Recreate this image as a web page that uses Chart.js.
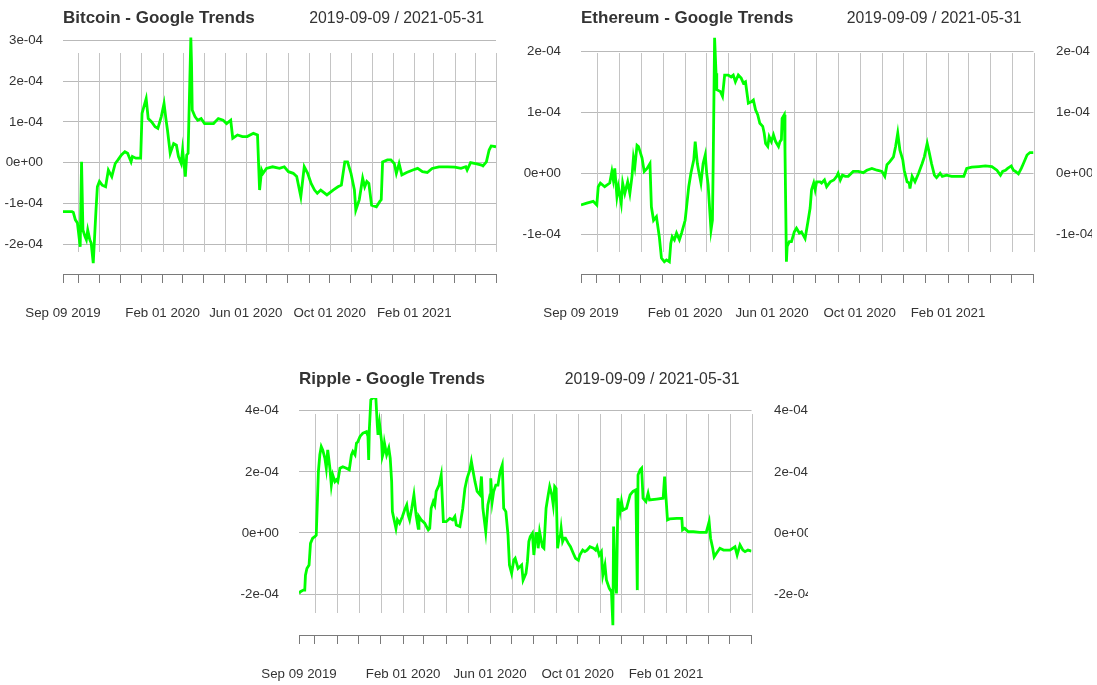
<!DOCTYPE html>
<html><head><meta charset="utf-8">
<script src="https://cdn.jsdelivr.net/npm/chart.js@4.4.1/dist/chart.umd.min.js"></script>
<style>
html,body{margin:0;padding:0;background:#ffffff;width:1097px;height:685px;overflow:hidden}
body{position:relative}
canvas{position:absolute}
</style></head><body>
<canvas id="c1" width="518" height="324" style="left:0px;top:0px"></canvas>
<canvas id="c2" width="574" height="324" style="left:518px;top:0px"></canvas>
<canvas id="c3" width="572" height="324" style="left:236px;top:361px"></canvas>
<script>
// ---------- data ----------
const startDate = '2019-09-09';
const endDate = '2021-05-31';
const rangeText = '2019-09-09 / 2021-05-31';

const xTickDates = ['2019-09-09','2019-10-01','2019-11-01','2019-12-01','2020-01-01','2020-02-01','2020-03-01','2020-04-01','2020-05-01','2020-06-01','2020-07-01','2020-08-01','2020-09-01','2020-10-01','2020-11-01','2020-12-01','2021-01-01','2021-02-01','2021-03-01','2021-04-01','2021-05-01','2021-05-31'];
const xLabelDates = ['2019-09-09','2020-02-01','2020-06-01','2020-10-01','2021-02-01'];
const xLabelTexts = ['Sep 09 2019','Feb 01 2020','Jun 01 2020','Oct 01 2020','Feb 01 2021'];

// days since 2019-09-09
const btcDays = [0,13,15,18,21,23,25,27,29,32,34,36,39,41,44,46,48,50,53,57,62,66,71,76,80,85,90,94,99,101,106,113,115,121,124,129,134,138,143,147,150,152,156,161,165,168,172,174,178,180,182,186,187,188,192,196,201,206,213,219,226,233,238,244,247,254,261,268,277,283,286,289,291,296,305,315,322,328,335,340,346,351,356,361,366,370,375,384,393,400,405,410,414,419,424,426,431,436,439,442,445,449,456,461,463,465,472,477,482,485,489,493,500,509,516,523,530,537,547,560,570,579,586,588,593,602,609,611,616,620,623,630];
const btcValues = [-1.20e-4,-1.20e-4,-1.22e-4,-1.40e-4,-1.48e-4,-1.77e-4,-2.06e-4,0.02e-4,-1.65e-4,-1.81e-4,-1.89e-4,-1.65e-4,-1.89e-4,-1.97e-4,-2.46e-4,-1.81e-4,-1.16e-4,-0.59e-4,-0.46e-4,-0.55e-4,-0.59e-4,-0.18e-4,-0.34e-4,-0.02e-4,0.07e-4,0.19e-4,0.27e-4,0.23e-4,0.02e-4,0.15e-4,0.11e-4,0.11e-4,1.21e-4,1.57e-4,1.08e-4,1.00e-4,0.88e-4,0.84e-4,1.13e-4,1.45e-4,1.04e-4,0.80e-4,0.23e-4,0.47e-4,0.43e-4,0.15e-4,-0.02e-4,0.31e-4,-0.34e-4,0.19e-4,0.23e-4,3.07e-4,2.43e-4,1.29e-4,1.13e-4,1.04e-4,1.08e-4,0.96e-4,0.96e-4,0.96e-4,1.08e-4,1.04e-4,0.96e-4,1.04e-4,0.60e-4,0.68e-4,0.64e-4,0.64e-4,0.72e-4,0.68e-4,-0.67e-4,-0.18e-4,-0.26e-4,-0.14e-4,-0.10e-4,-0.14e-4,-0.10e-4,-0.22e-4,-0.26e-4,-0.34e-4,-0.83e-4,-0.10e-4,-0.26e-4,-0.51e-4,-0.67e-4,-0.75e-4,-0.67e-4,-0.79e-4,-0.67e-4,-0.59e-4,-0.55e-4,0.02e-4,0.02e-4,-0.26e-4,-0.67e-4,-1.16e-4,-0.91e-4,-0.38e-4,-0.59e-4,-0.46e-4,-0.51e-4,-1.04e-4,-1.08e-4,-0.95e-4,-0.91e-4,0.02e-4,0.07e-4,0.07e-4,-0.02e-4,-0.26e-4,-0.02e-4,-0.30e-4,-0.24e-4,-0.18e-4,-0.14e-4,-0.22e-4,-0.24e-4,-0.14e-4,-0.10e-4,-0.10e-4,-0.11e-4,-0.14e-4,-0.10e-4,-0.18e-4,0.00e-4,-0.03e-4,-0.06e-4,-0.08e-4,0.02e-4,0.31e-4,0.41e-4,0.39e-4];

const ethDays = [0,8,17,22,24,27,33,40,43,45,47,50,52,56,58,61,65,68,71,73,75,78,80,85,88,92,96,98,101,105,109,112,116,119,123,125,127,130,133,137,140,145,147,150,153,157,159,162,164,167,170,173,175,177,181,183,184,186,188,189,194,197,200,205,209,212,215,219,223,226,229,233,237,240,243,246,249,253,255,257,260,262,265,268,271,275,277,279,280,283,284,286,287,290,293,297,300,304,307,312,316,319,321,324,326,328,333,335,339,342,347,352,356,358,361,364,368,372,379,386,393,398,405,412,419,423,426,430,435,438,441,444,448,450,454,457,458,461,465,470,475,478,482,485,488,492,495,500,503,509,516,526,533,537,544,554,563,572,579,584,587,591,594,599,602,605,609,613,616,621,625,630];
const ethValues = [-0.52e-4,-0.49e-4,-0.46e-4,-0.52e-4,-0.22e-4,-0.16e-4,-0.22e-4,-0.16e-4,0.03e-4,-0.11e-4,0.08e-4,-0.38e-4,-0.22e-4,-0.49e-4,-0.16e-4,-0.33e-4,-0.14e-4,-0.33e-4,-0.05e-4,0.25e-4,0.11e-4,0.46e-4,0.44e-4,0.25e-4,0.03e-4,0.08e-4,0.16e-4,-0.55e-4,-0.77e-4,-0.71e-4,-1.04e-4,-1.39e-4,-1.45e-4,-1.42e-4,-1.45e-4,-1.15e-4,-1.04e-4,-1.09e-4,-0.98e-4,-1.09e-4,-0.98e-4,-0.77e-4,-0.55e-4,-0.22e-4,0.00e-4,0.22e-4,0.52e-4,0.16e-4,0.03e-4,-0.16e-4,0.16e-4,0.30e-4,0.00e-4,-0.19e-4,-0.93e-4,-0.77e-4,0.11e-4,2.22e-4,1.64e-4,1.37e-4,1.34e-4,1.26e-4,1.61e-4,1.61e-4,1.58e-4,1.61e-4,1.50e-4,1.61e-4,1.56e-4,1.48e-4,1.50e-4,1.15e-4,1.17e-4,1.20e-4,1.04e-4,0.96e-4,0.82e-4,0.77e-4,0.66e-4,0.49e-4,0.44e-4,0.60e-4,0.52e-4,0.63e-4,0.52e-4,0.44e-4,0.52e-4,0.55e-4,0.90e-4,0.96e-4,0.38e-4,-1.45e-4,-1.20e-4,-1.12e-4,-1.12e-4,-0.96e-4,-0.90e-4,-0.98e-4,-0.96e-4,-1.07e-4,-0.79e-4,-0.57e-4,-0.27e-4,-0.16e-4,-0.27e-4,-0.14e-4,-0.14e-4,-0.16e-4,-0.11e-4,-0.22e-4,-0.14e-4,-0.11e-4,-0.05e-4,0.00e-4,-0.11e-4,-0.03e-4,-0.05e-4,-0.05e-4,0.03e-4,0.03e-4,0.01e-4,0.05e-4,0.08e-4,0.05e-4,0.03e-4,-0.05e-4,0.14e-4,0.19e-4,0.27e-4,0.44e-4,0.66e-4,0.38e-4,0.22e-4,0.05e-4,-0.14e-4,-0.16e-4,-0.25e-4,-0.05e-4,-0.14e-4,0.00e-4,0.16e-4,0.27e-4,0.49e-4,0.33e-4,0.16e-4,-0.03e-4,-0.07e-4,0.00e-4,-0.05e-4,-0.03e-4,-0.05e-4,-0.05e-4,-0.05e-4,0.08e-4,0.10e-4,0.11e-4,0.12e-4,0.11e-4,0.05e-4,-0.03e-4,0.03e-4,0.05e-4,0.08e-4,0.12e-4,0.05e-4,0.03e-4,-0.01e-4,0.08e-4,0.16e-4,0.30e-4,0.34e-4,0.34e-4];

const xrpDays = [0,2,6,8,9,11,14,16,19,22,24,27,29,31,33,36,38,40,43,45,47,50,52,54,57,61,66,70,73,75,78,80,82,85,89,94,96,97,98,100,103,107,109,110,112,115,116,118,119,122,125,127,129,130,133,135,137,140,144,147,150,152,154,157,160,163,166,167,170,175,180,182,184,187,189,191,195,198,201,205,210,214,217,219,224,228,231,234,238,240,242,245,248,252,254,256,260,263,266,267,269,271,274,277,280,283,285,288,291,293,296,299,301,305,310,312,316,318,320,322,325,327,330,332,333,335,339,341,344,347,349,352,354,356,358,360,362,364,365,367,369,371,375,378,382,385,389,391,395,398,401,405,410,413,415,418,421,423,426,428,432,435,437,438,440,442,444,447,449,451,456,461,465,469,471,472,475,477,479,483,486,488,498,507,509,511,513,516,526,533,534,537,542,549,558,567,571,573,576,578,581,586,591,600,607,610,614,618,621,625,630];
const xrpValues = [-1.98e-4,-1.92e-4,-1.87e-4,-1.87e-4,-1.38e-4,-1.16e-4,-1.05e-4,-0.34e-4,-0.17e-4,-0.12e-4,-0.07e-4,2.01e-4,2.56e-4,2.83e-4,2.72e-4,2.45e-4,2.12e-4,2.72e-4,2.12e-4,1.57e-4,1.90e-4,1.68e-4,1.74e-4,1.68e-4,2.12e-4,2.17e-4,2.12e-4,2.07e-4,2.56e-4,2.67e-4,2.56e-4,2.94e-4,2.99e-4,3.16e-4,3.27e-4,3.32e-4,3.16e-4,2.39e-4,3.43e-4,4.36e-4,4.42e-4,4.42e-4,3.54e-4,3.21e-4,3.60e-4,2.99e-4,2.50e-4,2.67e-4,2.94e-4,2.56e-4,2.78e-4,2.45e-4,1.68e-4,0.70e-4,0.37e-4,0.15e-4,0.43e-4,0.32e-4,0.54e-4,0.75e-4,0.92e-4,0.59e-4,0.43e-4,0.81e-4,1.25e-4,0.59e-4,0.15e-4,0.54e-4,0.43e-4,0.32e-4,0.10e-4,0.15e-4,0.81e-4,1.03e-4,0.92e-4,1.36e-4,1.57e-4,1.90e-4,0.37e-4,0.37e-4,0.48e-4,0.43e-4,0.54e-4,0.26e-4,0.21e-4,0.81e-4,1.46e-4,1.79e-4,2.07e-4,2.34e-4,2.07e-4,1.68e-4,1.36e-4,1.25e-4,1.85e-4,0.81e-4,0.04e-4,0.92e-4,1.25e-4,1.79e-4,1.03e-4,1.36e-4,1.57e-4,1.57e-4,2.01e-4,2.23e-4,0.81e-4,0.70e-4,-0.07e-4,-1.05e-4,-1.32e-4,-0.89e-4,-0.83e-4,-1.16e-4,-1.05e-4,-1.54e-4,-1.32e-4,-0.94e-4,-0.28e-4,-0.12e-4,-0.01e-4,-0.72e-4,-0.01e-4,-0.01e-4,-0.50e-4,0.04e-4,-0.45e-4,-0.50e-4,0.81e-4,1.25e-4,1.52e-4,1.25e-4,0.92e-4,1.52e-4,1.46e-4,-0.50e-4,-0.17e-4,-0.07e-4,0.15e-4,-0.28e-4,-0.17e-4,-0.17e-4,-0.34e-4,-0.45e-4,-0.67e-4,-0.83e-4,-0.89e-4,-0.72e-4,-0.56e-4,-0.61e-4,-0.56e-4,-0.45e-4,-0.50e-4,-0.56e-4,-0.45e-4,-0.72e-4,-0.61e-4,-1.38e-4,-1.05e-4,-1.54e-4,-1.81e-4,-1.92e-4,-3.02e-4,0.21e-4,-1.49e-4,-1.98e-4,1.14e-4,0.70e-4,1.03e-4,0.75e-4,0.81e-4,1.25e-4,1.36e-4,1.41e-4,-1.87e-4,1.90e-4,2.07e-4,2.12e-4,1.14e-4,1.03e-4,1.30e-4,1.08e-4,1.11e-4,1.14e-4,1.85e-4,1.14e-4,0.43e-4,0.46e-4,0.48e-4,0.48e-4,0.10e-4,0.15e-4,0.04e-4,0.04e-4,0.02e-4,0.02e-4,0.37e-4,-0.17e-4,-0.50e-4,-0.78e-4,-0.67e-4,-0.50e-4,-0.56e-4,-0.56e-4,-0.45e-4,-0.72e-4,-0.39e-4,-0.56e-4,-0.61e-4,-0.56e-4,-0.59e-4];

const btcYTicks = [-2e-4,-1e-4,0,1e-4,2e-4,3e-4];
const btcYLabels = ['-2e-04','-1e-04','0e+00','1e-04','2e-04','3e-04'];
const ethYTicks = [-1e-4,0,1e-4,2e-4];
const ethYLabels = ['-1e-04','0e+00','1e-04','2e-04'];
const xrpYTicks = [-2e-4,0,2e-4,4e-4];
const xrpYLabels = ['-2e-04','0e+00','2e-04','4e-04'];

// ---------- rendering ----------
const FONT = '"Liberation Sans", Arial, Helvetica, sans-serif';
const TXT = '#333333';
Chart.defaults.font.family = FONT;
const dayOf = s => Math.round((Date.parse(s) - Date.parse(startDate)) / 86400000);
const totalDays = dayOf(endDate);
const xTickDays = xTickDates.map(dayOf);
const xLabelDays = xLabelDates.map(dayOf);

const panelDeco = {
  id: 'panelDeco',
  beforeDatasetsDraw(chart, args, opts) {
    const {ctx, chartArea} = chart;
    const xs = chart.scales.x;
    ctx.save();
    ctx.strokeStyle = opts.vGridColor;
    ctx.lineWidth = 1;
    xs.ticks.forEach(t => {
      if (t.value === 0) return;
      const px = Math.round(xs.getPixelForValue(t.value)) + 0.5;
      ctx.beginPath();
      ctx.moveTo(px, chartArea.top + 16);
      ctx.lineTo(px, chartArea.top + 215);
      ctx.stroke();
    });
    ctx.restore();
  },
  afterDraw(chart, args, opts) {
    const {ctx, chartArea} = chart;
    ctx.save();
    ctx.font = '15.8px ' + FONT;
    ctx.fillStyle = TXT;
    ctx.textAlign = 'right';
    ctx.textBaseline = 'middle';
    ctx.fillText(opts.rangeText, chartArea.right - 12, 18.5);
    ctx.restore();
  }
};

function makePanel(id, cfg) {
  const points = cfg.days.map((d, i) => ({x: d, y: cfg.values[i]}));
  const yAxis = (pos, width, showGrid) => ({
    position: pos,
    min: cfg.yMin, max: cfg.yMax,
    afterBuildTicks: s => { s.ticks = cfg.yTicks.map(v => ({value: v})); },
    afterFit: s => { s.width = width; },
    ticks: { padding: pos === 'left' ? 20 : 22.5, color: TXT, font: {size: 13.3},
             callback: (v, i) => cfg.yLabels[i] },
    grid: { display: showGrid, color: '#b9b9b9', lineWidth: 1, drawTicks: false },
    border: { display: false }
  });
  const scales = {
    x: {
      type: 'linear', min: 0, max: totalDays,
      afterBuildTicks: s => { s.ticks = xTickDays.map(v => ({value: v})); },
      afterFit: s => { s.height = 50; },
      ticks: { autoSkip: false, maxRotation: 0, minRotation: 0, padding: 22, color: TXT,
               font: {size: 13.3},
               callback: v => { const k = xLabelDays.indexOf(v); return k >= 0 ? xLabelTexts[k] : ''; } },
      grid: { drawOnChartArea: false, drawTicks: true, tickLength: 9, color: '#7a7a7a', lineWidth: 1 },
      border: { display: true, color: '#7a7a7a', width: 1 }
    },
    y: yAxis('left', 63, true)
  };
  if (cfg.rightWidth) scales.y2 = yAxis('right', cfg.rightWidth, false);
  return new Chart(document.getElementById(id), {
    type: 'line',
    data: { datasets: [{ label: cfg.title, data: points, borderColor: '#00ff00', borderWidth: 2.8,
      pointRadius: 0, tension: 0, fill: false, yAxisID: 'y' }] },
    options: {
      responsive: false, animation: false, events: [],
      layout: { padding: { left: 0, right: cfg.padRight || 0, top: 0, bottom: 0 } },
      scales,
      plugins: {
        legend: { display: false },
        tooltip: { enabled: false },
        title: { display: true, text: cfg.title, align: 'start', fullSize: false, color: TXT,
                 font: { size: 17, weight: 'bold' }, padding: { top: 8.5, bottom: 8.1 } },
        panelDeco: { rangeText: rangeText, vGridColor: '#c4c4c4' }
      }
    },
    plugins: [panelDeco]
  });
}

makePanel('c1', { title: 'Bitcoin - Google Trends', days: btcDays, values: btcValues,
  yTicks: btcYTicks, yLabels: btcYLabels, yMin: -2.728e-4, yMax: 3.081e-4, padRight: 3 });
makePanel('c2', { title: 'Ethereum - Google Trends', days: ethDays, values: ethValues,
  yTicks: ethYTicks, yLabels: ethYLabels, yMin: -1.651e-4, yMax: 2.234e-4, rightWidth: 58.5 });
makePanel('c3', { title: 'Ripple - Google Trends', days: xrpDays, values: xrpValues,
  yTicks: xrpYTicks, yLabels: xrpYLabels, yMin: -3.339e-4, yMax: 4.419e-4, rightWidth: 56.5 });
</script>
</body></html>
